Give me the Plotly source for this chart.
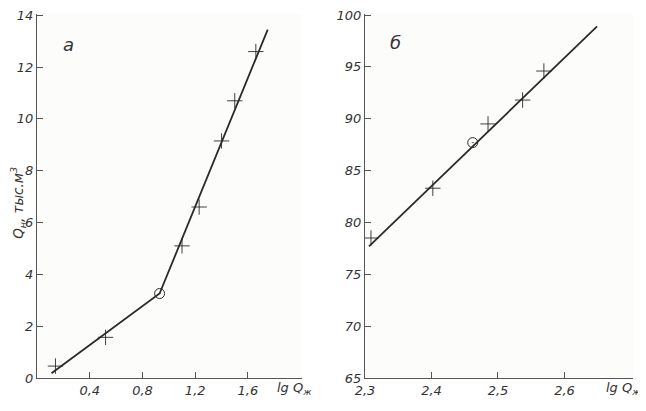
import plotly.graph_objects as go

# Panel a data
a_x = [0.14, 0.52, 1.10, 1.23, 1.40, 1.50, 1.66]
a_y = [0.46, 1.57, 5.1, 6.6, 9.15, 10.7, 12.6]
a_break_x = [0.93]
a_break_y = [3.26]
a_line_x = [0.11, 0.93, 1.75]
a_line_y = [0.18, 3.26, 13.45]
a_xticks = [0.4, 0.8, 1.2, 1.6]
a_xticktext = ["0,4", "0,8", "1,2", "1,6"]
a_yticks = [0, 2, 4, 6, 8, 10, 12, 14]

# Panel б data
b_x = [2.309, 2.402, 2.485, 2.537, 2.569]
b_y = [78.5, 83.3, 89.5, 91.8, 94.6]
b_break_x = [2.462]
b_break_y = [87.7]
b_line_x = [2.306, 2.649]
b_line_y = [77.7, 98.9]
b_xticks = [2.3, 2.4, 2.5, 2.6]
b_xticktext = ["2,3", "2,4", "2,5", "2,6"]
b_yticks = [65, 70, 75, 80, 85, 90, 95, 100]

ink = "#2a2a2a"
fnt = dict(family="DejaVu Sans", size=13, color="#333333", style="italic")

fig = go.Figure()
fig.add_trace(go.Scatter(x=a_line_x, y=a_line_y, mode="lines",
                         line=dict(color=ink, width=1.8), xaxis="x", yaxis="y"))
fig.add_trace(go.Scatter(x=a_x, y=a_y, mode="markers",
                         marker=dict(symbol="cross-thin", size=11, line=dict(color=ink, width=0.9)),
                         xaxis="x", yaxis="y"))
fig.add_trace(go.Scatter(x=a_break_x, y=a_break_y, mode="markers",
                         marker=dict(symbol="circle-open-dot", size=10, color=ink, line=dict(color=ink, width=1)),
                         xaxis="x", yaxis="y"))

fig.add_trace(go.Scatter(x=b_line_x, y=b_line_y, mode="lines",
                         line=dict(color=ink, width=1.8), xaxis="x2", yaxis="y2"))
fig.add_trace(go.Scatter(x=b_x, y=b_y, mode="markers",
                         marker=dict(symbol="cross-thin", size=11, line=dict(color=ink, width=0.9)),
                         xaxis="x2", yaxis="y2"))
fig.add_trace(go.Scatter(x=b_break_x, y=b_break_y, mode="markers",
                         marker=dict(symbol="circle-open-dot", size=10, color=ink, line=dict(color=ink, width=1)),
                         xaxis="x2", yaxis="y2"))

axis_common = dict(showgrid=False, zeroline=False, showline=True, linecolor="#555555", linewidth=1.3,
                   ticks="inside", ticklen=6, tickcolor="#555555", tickwidth=1.2, tickfont=fnt,
                   automargin=False, ticklabeloverflow="allow")

fig.update_layout(
    width=638, height=403,
    margin=dict(l=29, r=13, t=6, b=33),
    paper_bgcolor="#ffffff", plot_bgcolor="#fcfcfa",
    showlegend=False,
    font=fnt,
    xaxis=dict(domain=[0, 0.4446], range=[0, 2.01], tickvals=a_xticks, ticktext=a_xticktext, **axis_common),
    yaxis=dict(domain=[0, 1], range=[0, 14.05], tickvals=a_yticks, anchor="x", **axis_common),
    xaxis2=dict(domain=[0.5503, 1], range=[2.3, 2.703], tickvals=b_xticks, ticktext=b_xticktext,
                anchor="y2", **axis_common),
    yaxis2=dict(domain=[0, 1], range=[65, 100.1], tickvals=b_yticks, anchor="x2", **axis_common),
    annotations=[
        dict(text="а", xref="x domain", yref="y domain", x=0.09, y=0.95, showarrow=False,
             font=dict(family="DejaVu Sans", size=18, color="#333333", style="italic")),
        dict(text="б", xref="x2 domain", yref="y2 domain", x=0.085, y=0.955, showarrow=False,
             font=dict(family="DejaVu Sans", size=18, color="#333333", style="italic")),
        dict(text="Q<sub>н</sub>, тыс.м<sup>3</sup>", xref="paper", yref="paper", x=-0.031, y=0.48,
             textangle=-90, showarrow=False, xanchor="center", yanchor="middle",
             font=dict(family="DejaVu Sans", size=13.5, color="#333333", style="italic")),
        dict(text="lg Q<sub>ж</sub>", xref="x domain", yref="y domain", x=0.97, y=-0.028,
             showarrow=False, xanchor="center", yanchor="middle", font=fnt),
        dict(text="lg Q<sub>ж</sub>", xref="x2 domain", yref="y2 domain", x=0.963, y=-0.028,
             showarrow=False, xanchor="center", yanchor="middle", font=fnt),
    ],
)

fig.write_html("out.html")
